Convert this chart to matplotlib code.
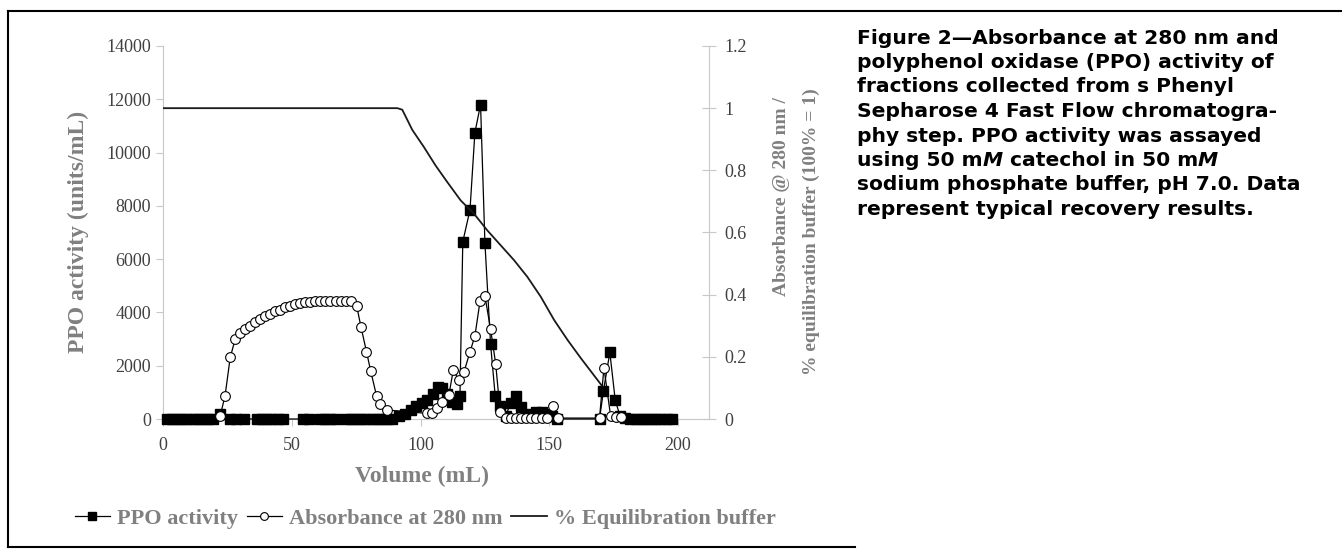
import numpy as np
import matplotlib.pyplot as plt
from matplotlib.lines import Line2D

W, H = 1342, 552

# PPO activity (units/mL) per fraction
ppo_vol = [1.5, 3.5, 5.5, 7.5, 9.5, 11.5, 13.5, 15.5, 17.5, 19.5, 22.2,
           26.0, 28.2, 31.6, 36.5, 38.5, 40.5, 42.5, 44.5, 46.5, 54.5, 56.5,
           61.0, 63.0, 65.0, 67.0, 71.0, 73.0, 75.0, 77.0, 79.0, 81.0, 83.0,
           85.0, 87.0, 89.0, 91.6, 93.8, 96.2, 98.4, 100.5, 102.6, 104.7,
           106.6, 108.4, 110.3, 112.2, 114.0, 115.3, 116.4, 119.2, 121.1,
           123.3, 125.0, 127.2, 129.0, 131.0, 133.0, 135.0, 137.0, 139.0,
           141.0, 143.0, 145.0, 147.0, 149.0, 151.0, 153.0, 169.5, 171.0,
           173.5, 175.6, 177.5, 179.5, 181.5, 183.5, 185.5, 187.5, 189.5,
           191.5, 193.5, 195.5, 197.5]
ppo_act = [0, 0, 0, 0, 0, 0, 0, 0, 0, 0, 200,
           0, 0, 0, 0, 0, 0, 0, 0, 0, 0, 0,
           0, 0, 0, 0, 0, 0, 0, 0, 0, 0, 0,
           0, 0, 0, 120, 200, 350, 480, 600, 700, 950,
           1200, 1150, 950, 650, 550, 850, 6650, 7850, 10750,
           11800, 6600, 2800, 850, 500, 100, 600, 850, 450,
           200, 100, 250, 250, 200, 100, 0, 0, 1050,
           2500, 700, 100, 50, 0, 0, 0, 0, 0,
           0, 0, 0, 0]

# absorbance at 280 nm
abs_vol = [22.2, 24.1, 26.1, 28.0, 30.0, 31.9, 33.9, 35.8, 37.7, 39.7, 41.6,
           43.6, 45.5, 47.5, 49.4, 51.4, 53.3, 55.2, 57.1, 59.0, 61.0, 63.0,
           65.0, 67.0, 69.0, 71.0, 73.0, 75.2, 76.9, 79.0, 80.6, 82.9, 84.4,
           87.0, 102.6, 104.5,
           106.5, 108.4, 111.0, 112.7, 114.9, 116.9, 119.2, 121.1, 123.1,
           125.0, 127.2, 129.2, 130.9, 133.0, 135.0, 137.0, 139.0, 141.0,
           143.0, 145.0, 147.0, 149.0, 151.3, 153.5, 169.5, 171.2, 173.8,
           176.0, 178.0]
abs_val = [0.01, 0.075, 0.198, 0.256, 0.278, 0.288, 0.299, 0.312, 0.321, 0.332, 0.339,
           0.346, 0.352, 0.36, 0.365, 0.37, 0.374, 0.377, 0.378, 0.379, 0.379, 0.379,
           0.379, 0.379, 0.379, 0.379, 0.379, 0.364, 0.295, 0.217, 0.156, 0.075, 0.048,
           0.029, 0.018, 0.018,
           0.034, 0.056, 0.077, 0.157, 0.125, 0.152, 0.216, 0.267, 0.379,
           0.395, 0.289, 0.176, 0.023, 0.003, 0.003, 0.003, 0.003, 0.003,
           0.003, 0.003, 0.003, 0.003, 0.043, 0.003, 0.003, 0.165, 0.01,
           0.005, 0.005]

# % equilibration buffer (fraction of 1)
buf_vol = [0, 91.0, 92.9, 96.8, 101.3, 105.8, 110.4, 115.6, 120.7, 125.9,
           131.1, 136.3, 141.5, 146.7, 151.9, 157.1, 162.3, 170.7]
buf_frac = [1.0, 1.0, 0.995, 0.93, 0.875, 0.816, 0.762, 0.703, 0.661, 0.607,
            0.559, 0.511, 0.457, 0.393, 0.318, 0.254, 0.195, 0.104]

x_ticks = [0, 50, 100, 150, 200]
y_ticks = list(range(0, 14001, 2000))
y2_ticks = [0, 0.2, 0.4, 0.6, 0.8, 1.0, 1.2]
y2_labels = ['0', '0.2', '0.4', '0.6', '0.8', '1', '1.2']

serif = 'Liberation Serif'
gray_lab = '#808080'
gray_tick = '#404040'
axis_col = '#c8c8c8'

fig = plt.figure(figsize=(W / 100, H / 100), dpi=100)
ax = fig.add_axes([163 / W, 1 - 419 / H, (709 - 163) / W, (419 - 46) / H])
ax2 = ax.twinx()

l1, = ax.plot(ppo_vol, ppo_act, '-s', color='black', ms=6.5, lw=0.9,
              mfc='black', mec='black', zorder=3, clip_on=False)
l2, = ax2.plot(abs_vol, abs_val, '-o', color='black', ms=7, lw=0.9,
               mfc='white', mec='black', mew=0.8, zorder=3, clip_on=False)
l3, = ax2.plot(buf_vol, buf_frac, '-', color='#1a1a1a', lw=1.3, zorder=2)

ax.set_xlim(0, 212)
ax.set_ylim(0, 14000)
ax2.set_ylim(0, 1.2)
ax.set_xticks(x_ticks)
ax.set_yticks(y_ticks)
ax2.set_yticks(y2_ticks)
ax2.set_yticklabels(y2_labels)

for a in (ax, ax2):
    a.spines['top'].set_visible(False)
ax.spines['right'].set_visible(False)
ax2.spines['left'].set_visible(False)
ax2.spines['bottom'].set_visible(False)
for s in ('left', 'bottom'):
    ax.spines[s].set_color(axis_col)
ax2.spines['right'].set_color(axis_col)

ax.tick_params(axis='both', direction='out', length=5, color=axis_col,
               labelsize=13, labelcolor=gray_tick)
ax.tick_params(axis='x', pad=8)
ax2.tick_params(axis='y', direction='inout', length=10, color=axis_col,
                labelsize=13, labelcolor=gray_tick, pad=6)
for lab in ax.get_xticklabels() + ax.get_yticklabels() + ax2.get_yticklabels():
    lab.set_family(serif)

# axis titles
fig.text(78 / W, 1 - 232 / H, 'PPO activity (units/mL)', rotation=90,
         ha='center', va='center', fontsize=17, fontweight='bold',
         color=gray_lab, family=serif)
fig.text(422 / W, 1 - 476 / H, 'Volume (mL)', ha='center', va='center',
         fontsize=17, fontweight='bold', color=gray_lab, family=serif)
fig.text(782 / W, 1 - 97 / H, 'Absorbance @ 280 nm /', rotation=90,
         ha='center', va='top', fontsize=14, fontweight='bold',
         color=gray_lab, family=serif)
fig.text(811 / W, 1 - 88 / H, '% equilibration buffer (100% = 1)', rotation=90,
         ha='center', va='top', fontsize=14, fontweight='bold',
         color=gray_lab, family=serif)

leg = fig.legend([l1, l2, l3], ['PPO activity', 'Absorbance at 280 nm',
                                '% Equilibration buffer'],
                 loc='center', bbox_to_anchor=(425 / W, 1 - 519 / H), ncol=3,
                 frameon=False, handlelength=1.6, handletextpad=0.3,
                 columnspacing=0.4, markerscale=0.8,
                 prop={'family': serif, 'weight': 'bold', 'size': 16})
for t in leg.get_texts():
    t.set_color(gray_lab)

# frame around the figure panel
frame_kw = dict(color='black', lw=1.5, transform=fig.transFigure)
fig.add_artist(Line2D([8 / W, 1], [1 - 11 / H, 1 - 11 / H], **frame_kw))
fig.add_artist(Line2D([8 / W, 8 / W], [1 - 11 / H, 1 - 547 / H], **frame_kw))
fig.add_artist(Line2D([8 / W, 855 / W], [1 - 547 / H, 1 - 547 / H], **frame_kw))

# caption
cap_lines = [
    [('Figure 2\u2014Absorbance at 280 nm and', 'normal')],
    [('polyphenol oxidase (PPO) activity of', 'normal')],
    [('fractions collected from s Phenyl', 'normal')],
    [('Sepharose 4 Fast Flow chromatogra-', 'normal')],
    [('phy step. PPO activity was assayed', 'normal')],
    [('using 50 m', 'normal'), ('M', 'italic'), (' catechol in 50 m', 'normal'),
     ('M', 'italic')],
    [('sodium phosphate buffer, pH 7.0. Data', 'normal')],
    [('represent typical recovery results.', 'normal')],
]
renderer = fig.canvas.get_renderer()
for i, parts in enumerate(cap_lines):
    x = 857 / W
    y = 1 - (38 + 24.5 * i) / H
    for txt, style in parts:
        t = fig.text(x, y, txt, fontsize=14.6, fontweight='bold', fontstyle=style,
                     family='DejaVu Sans', ha='left', va='center', color='black')
        x = t.get_window_extent(renderer).x1 / W

fig.savefig('out.png', dpi=100)
